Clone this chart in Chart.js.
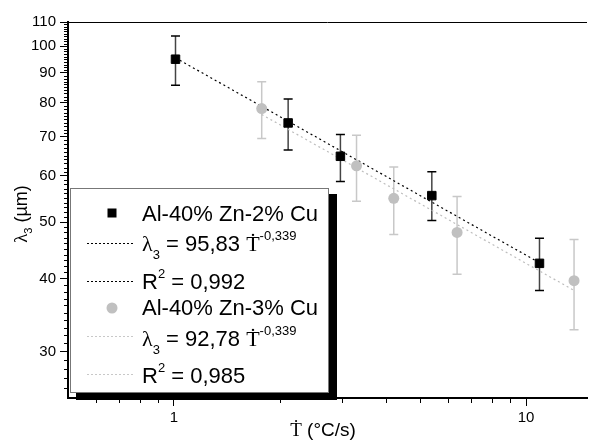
<!DOCTYPE html>
<html>
<head>
<meta charset="utf-8">
<script src="https://cdn.jsdelivr.net/npm/chart.js@4.4.1/dist/chart.umd.min.js"></script>
<style>
  html, body { margin: 0; padding: 0; background: #fff; overflow: hidden; }
  #wrap { width: 594px; height: 442px; }
</style>
</head>
<body>
<div id="wrap"><canvas id="chart" width="594" height="442"></canvas></div>
<script>
// Al-40% Zn-2% Cu
const rate2Cu = [1.01, 2.11, 2.97, 5.4, 10.92];
const lambda2Cu = [95.0, 73.9, 64.8, 55.5, 42.5];
const lambda2CuLow = [85.7, 66.4, 58.7, 50.3, 38.2];
const lambda2CuHigh = [104.1, 81.2, 70.6, 61.0, 46.9];

// Al-40% Zn-3% Cu
const rate3Cu = [1.775, 3.30, 4.21, 6.37, 13.69];
const lambda3Cu = [78.2, 62.4, 54.9, 48.0, 39.7];
const lambda3CuLow = [69.5, 54.3, 47.6, 40.7, 32.7];
const lambda3CuHigh = [86.9, 70.4, 62.1, 55.3, 46.7];

// fitted lines, end points
const fit2CuRate = [1.01, 10.92];
const fit2CuLambda = [95.5, 42.6];
const fit3CuRate = [1.775, 13.69];
const fit3CuLambda = [76.4, 38.2];

const xTicks = [1, 10];
const xMinor = [0.6, 0.7, 0.8, 0.9, 2, 3, 4, 5, 6, 7, 8, 9];
const yTicks = [30, 40, 50, 60, 70, 80, 90, 100, 110];
const yMinor = [];
for (let v = 26; v < 110; v++) if (!yTicks.includes(v)) yMinor.push(v);

const SANS = '"Liberation Sans", Arial, sans-serif';
const SERIF = '"Liberation Serif", "DejaVu Serif", serif';

const pts = (xs, ys) => xs.map((x, i) => ({ x: x, y: ys[i] }));

function errorBars(ctx, xs, lo, hi, sx, sy, color, capColor) {
  ctx.save();
  ctx.lineWidth = 1.5;
  xs.forEach((x, i) => {
    const px = sx.getPixelForValue(x);
    const p1 = sy.getPixelForValue(lo[i]);
    const p2 = sy.getPixelForValue(hi[i]);
    ctx.strokeStyle = color;
    ctx.beginPath(); ctx.moveTo(px, p1); ctx.lineTo(px, p2); ctx.stroke();
    ctx.strokeStyle = capColor;
    ctx.beginPath();
    ctx.moveTo(px - 4.5, p1); ctx.lineTo(px + 4.5, p1);
    ctx.moveTo(px - 4.5, p2); ctx.lineTo(px + 4.5, p2);
    ctx.stroke();
  });
  ctx.restore();
}

// draws text pieces one after the other: [text, font, dy]
function rich(ctx, x, y, parts) {
  parts.forEach(p => {
    ctx.font = p[1];
    ctx.fillText(p[0], x, y + (p[2] || 0));
    x += ctx.measureText(p[0]).width;
  });
  return x;
}

function dashLine(ctx, x1, x2, y, color) {
  ctx.save();
  ctx.strokeStyle = color;
  ctx.lineWidth = 1;
  ctx.setLineDash([2, 2]);
  ctx.beginPath(); ctx.moveTo(x1, y + 0.5); ctx.lineTo(x2, y + 0.5); ctx.stroke();
  ctx.restore();
}

const extras = {
  id: 'extras',
  beforeDatasetsDraw(chart) {
    const { ctx, scales: { x, y } } = chart;
    errorBars(ctx, rate3Cu, lambda3CuLow, lambda3CuHigh, x, y, '#c8c8c8', '#c8c8c8');
    errorBars(ctx, rate2Cu, lambda2CuLow, lambda2CuHigh, x, y, '#444', '#000');
  },
  afterDraw(chart) {
    const { ctx, chartArea: a, scales: { x, y } } = chart;
    ctx.save();
    // top frame line
    ctx.strokeStyle = '#000';
    ctx.lineWidth = 1;
    ctx.beginPath(); ctx.moveTo(a.left, a.top + 0.5); ctx.lineTo(a.right, a.top + 0.5); ctx.stroke();
    // minor ticks
    ctx.lineWidth = 1;
    ctx.beginPath();
    yMinor.forEach(v => {
      const py = Math.round(y.getPixelForValue(v)) + 0.5;
      ctx.moveTo(a.left - 4, py); ctx.lineTo(a.left, py);
    });
    xMinor.forEach(v => {
      const px = Math.round(x.getPixelForValue(v)) + 0.5;
      ctx.moveTo(px, a.bottom); ctx.lineTo(px, a.bottom + 5);
    });
    ctx.stroke();

    // axis titles
    ctx.fillStyle = '#000';
    ctx.textBaseline = 'alphabetic';
    let w = 0;
    const xParts = [['\u1E6A', '19px ' + SERIF], [' (°C/s)', '19px ' + SANS]];
    xParts.forEach(p => { ctx.font = p[1]; w += ctx.measureText(p[0]).width; });
    rich(ctx, 323 - w / 2, 436, xParts);

    ctx.save();
    ctx.translate(27, 214);
    ctx.rotate(-Math.PI / 2);
    const yParts = [['\u03BB', '19px ' + SERIF], ['3', '11px ' + SANS, 5], [' (µm)', '18px ' + SANS]];
    w = 0;
    yParts.forEach(p => { ctx.font = p[1]; w += ctx.measureText(p[0]).width; });
    rich(ctx, -w / 2, 0, yParts);
    ctx.restore();

    // legend box with shadow
    ctx.fillStyle = '#000';
    ctx.fillRect(76, 194, 261, 206);
    ctx.fillStyle = '#fff';
    ctx.fillRect(70, 188, 259, 205);
    ctx.strokeStyle = '#777';
    ctx.lineWidth = 1;
    ctx.strokeRect(70.5, 188.5, 258, 204);

    ctx.fillStyle = '#000';
    ctx.fillRect(107.5, 208.5, 9, 9);
    ctx.fillStyle = '#c0c0c0';
    ctx.beginPath(); ctx.arc(112, 308, 5.5, 0, Math.PI * 2); ctx.fill();

    dashLine(ctx, 87, 135, 243, '#000');
    dashLine(ctx, 87, 135, 281, '#000');
    dashLine(ctx, 87, 135, 336, '#c8c8c8');
    dashLine(ctx, 87, 135, 374, '#c8c8c8');

    const F = '22px ' + SANS;
    const FS = '13px ' + SANS;
    const FL = '22px ' + SERIF;
    ctx.fillStyle = '#000';
    rich(ctx, 142, 221, [['Al-40% Zn-2% Cu', F]]);
    rich(ctx, 142, 251, [['\u03BB', FL], ['3', FS, 8], [' = 95,83 ', F], ['\u1E6A', FL], ['-0,339', FS, -11]]);
    rich(ctx, 142, 289, [['R', F], ['2', FS, -11], [' = 0,992', F]]);
    rich(ctx, 142, 315, [['Al-40% Zn-3% Cu', F]]);
    rich(ctx, 142, 346, [['\u03BB', FL], ['3', FS, 8], [' = 92,78 ', F], ['\u1E6A', FL], ['-0,339', FS, -11]]);
    rich(ctx, 142, 383, [['R', F], ['2', FS, -11], [' = 0,985', F]]);
    ctx.restore();
  }
};

new Chart(document.getElementById('chart').getContext('2d'), {
  type: 'scatter',
  data: {
    datasets: [
      {
        label: 'Al-40% Zn-2% Cu',
        data: pts(rate2Cu, lambda2Cu),
        pointStyle: 'rect',
        pointRadius: 6,
        backgroundColor: '#000',
        borderColor: '#000',
        borderWidth: 1,
      },
      {
        label: 'Al-40% Zn-3% Cu',
        data: pts(rate3Cu, lambda3Cu),
        pointStyle: 'circle',
        pointRadius: 5.5,
        backgroundColor: '#c0c0c0',
        borderColor: '#c0c0c0',
        borderWidth: 0,
      },
      {
        label: 'fit 2% Cu',
        data: pts(fit2CuRate, fit2CuLambda),
        showLine: true,
        pointRadius: 0,
        borderColor: '#000',
        borderWidth: 1.2,
        borderDash: [2, 3],
      },
      {
        label: 'fit 3% Cu',
        data: pts(fit3CuRate, fit3CuLambda),
        showLine: true,
        pointRadius: 0,
        borderColor: '#bdbdbd',
        borderWidth: 1.2,
        borderDash: [2, 3],
      },
    ]
  },
  options: {
    responsive: false,
    animation: false,
    layout: { padding: { top: 22, right: 0, left: 0, bottom: 0 } },
    plugins: { legend: { display: false }, tooltip: { enabled: false } },
    scales: {
      x: {
        type: 'logarithmic',
        min: 0.5,
        max: 14.9,
        afterBuildTicks: s => { s.ticks = xTicks.map(v => ({ value: v })); },
        afterFit: s => { s.height = 44; },
        ticks: {
          autoSkip: false, maxRotation: 0, padding: 3, color: '#000',
          font: { family: SANS, size: 15 },
          callback: v => String(v),
        },
        grid: { drawOnChartArea: false, tickLength: 8, tickColor: '#000', tickWidth: 1 },
        border: { color: '#000', width: 2 },
      },
      y: {
        type: 'logarithmic',
        min: 25,
        max: 110,
        afterBuildTicks: s => { s.ticks = yTicks.map(v => ({ value: v })); },
        afterFit: s => { s.width = 68; },
        ticks: {
          autoSkip: false, padding: 4, color: '#000',
          font: { family: SANS, size: 15 },
          callback: v => String(v),
        },
        grid: { drawOnChartArea: false, tickLength: 8, tickColor: '#000', tickWidth: 1 },
        border: { color: '#000', width: 2 },
      }
    }
  },
  plugins: [extras]
});
</script>
</body>
</html>
